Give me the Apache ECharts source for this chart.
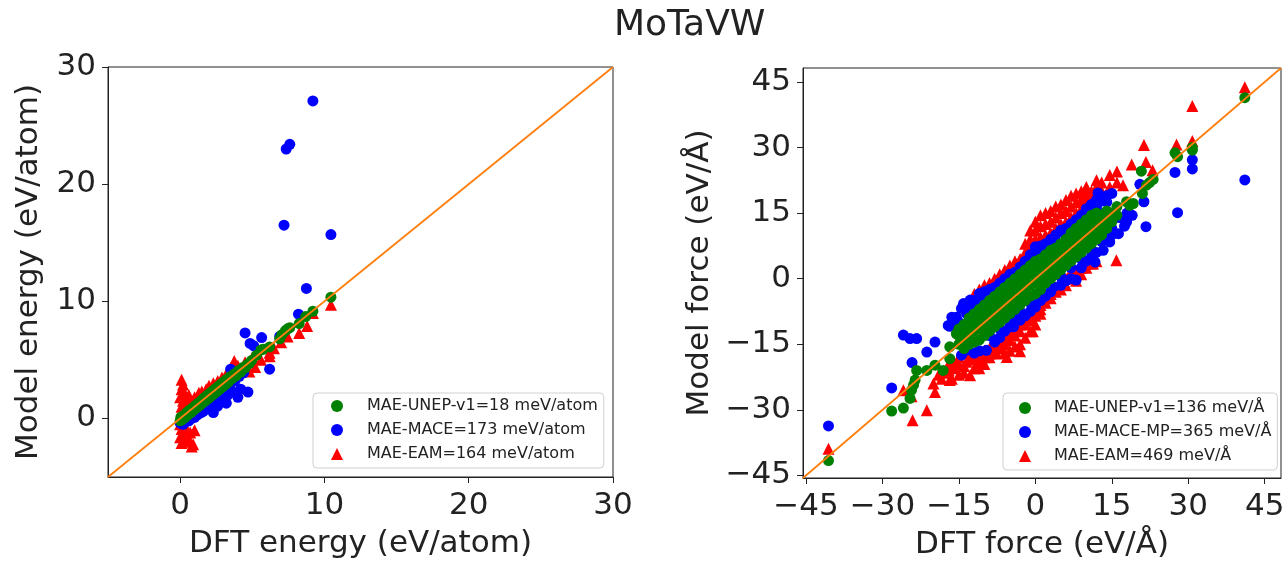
<!DOCTYPE html>
<html>
<head>
<meta charset="utf-8">
<script src="https://cdn.jsdelivr.net/npm/echarts@6/dist/echarts.min.js"></script>
<style>
  html, body { margin: 0; padding: 0; background: #fff; }
  #main { width: 1288px; height: 561px; }
</style>
</head>
<body>
<div id="main"></div>
<script>
var energyTicks = [0, 10, 20, 30];
var forceTicks = [-45, -30, -15, 0, 15, 30, 45];
var energyRange = [-5, 30];
var forceRange = [-45.6, 48.2];

var energyNames = ['MAE-UNEP-v1=18 meV/atom', 'MAE-MACE=173 meV/atom', 'MAE-EAM=164 meV/atom'];
var forceNames = ['MAE-UNEP-v1=136 meV/Å', 'MAE-MACE-MP=365 meV/Å', 'MAE-EAM=469 meV/Å'];

// energy panel (DFT, model) in eV/atom
var energyUnep = [
  [0,-0.2],[0.05,0.1],[0.15,-0.1],[0.25,0.25],[0.35,0.1],[0.45,0.5],[0.55,0.3],[0.65,0.7],[0.75,0.5],
  [0.85,0.9],[0.95,0.7],[1.05,1.1],[1.15,0.9],[1.25,1.3],[1.35,1.1],[1.45,1.5],[1.55,1.3],[1.65,1.75],
  [1.75,1.5],[1.85,1.95],[1.95,1.7],[2.05,2.15],[2.15,1.9],[2.25,2.35],[2.35,2.1],[2.45,2.55],[2.55,2.3],
  [2.65,2.75],[2.75,2.5],[2.85,2.95],[2.95,2.7],[3.05,3.15],[3.15,2.9],[3.25,3.35],[3.35,3.1],[3.45,3.55],
  [3.6,3.4],[3.75,3.8],[3.9,3.65],[4.05,4.1],[4.2,3.95],[4.35,4.35],[4.5,4.3],[4.65,4.6],[4.8,4.7],
  [4.95,4.95],[5.3,5.4],[5.6,5.85],[5.75,5.9],[6.2,6.1],[6.9,6.8],[7.05,7.15],[7.3,7.5],[7.45,7.65],
  [7.6,7.75],[8.25,8.1],[8.7,8.7],[9.2,9.15],[10.45,10.35]
];
var energyMace = [
  [9.2,27.1],[7.6,23.4],[7.35,23.0],[7.2,16.5],[10.45,15.7],[8.75,11.1],[8.2,8.9],[4.5,7.3],[5.65,6.9],
  [4.85,6.4],[5.1,6.2],[6.2,4.2],[4.7,2.25],[4.0,1.8],[6.9,7.0],
  [0,-0.4],[0.2,-0.5],[0.4,-0.3],[0.6,-0.2],[0.8,0],[1.0,0.1],[1.2,0.3],[1.4,0.5],[1.6,0.6],[1.8,0.8],
  [2.0,0.9],[2.2,1.1],[2.5,1.3],[2.8,1.5],[3.0,1.8],[3.3,2.0],[3.6,2.3],[3.2,1.3],[3.0,2.4],[3.5,3.0],
  [3.8,3.2],[4.1,3.6],[4.4,3.9],[3.5,4.2],[2.6,1.05],[1.45,0.49],[4.2,2.5],[2.3,0.5]
];
var energyEam = [
  [0.1,3.3],[0.2,2.9],[0.1,2.5],[0.3,2.2],[0.0,1.8],[0.2,1.5],[0.4,1.2],[0.1,1.0],[0.3,0.7],[0.5,1.6],
  [0.6,2.0],[0,-0.5],[0.1,-0.9],[0.2,-1.3],[0.0,-1.6],[0.3,-1.8],[0.1,-2.1],[0.5,-1.5],[0.6,-2.0],
  [0.8,-2.4],[0.9,-2.2],[0.7,-1.2],[0.4,-0.8],[1.0,-1.0],
  [0.8,1.5],[1.0,1.8],[1.3,2.2],[1.5,2.3],[1.8,2.5],[2.0,2.8],[2.3,3.0],[2.6,3.2],[2.9,3.5],[3.2,3.8],
  [3.75,4.9],[3.5,4.3],[4.0,4.5],[4.5,4.8],[5.0,5.2],[1.2,1.0],[2.2,2.0],
  [4.8,4.0],[5.6,5.0],[6.2,5.3],[7.0,6.5],[7.45,7.0],[8.25,7.3],[8.8,7.9],[9.2,9.0],[10.45,9.7],
  [6.5,6.0],[6.2,5.6],[5.2,4.4]
];

// force panel (DFT, model) in eV/Å
var forceUnep = [
  [-40.6,-41.6],[-28.2,-30.3],[-25.9,-29.6],[-24.6,-27.4],[-24.3,-25.5],[-23.9,-24.3],[-23.6,-23.2],
  [-23.3,-21.0],[-21.3,-21.0],[-19.7,-19.8],[-18.1,-21.0],[-16.8,-18.3],[-16.8,-15.6],[-15.5,-12.6],
  [-15,-15],[-15,-13],[-15,-11.5],[-14,-16],[-14,-14],[-14,-12],[-14,-10.5],
  [-13,-15],[-13,-13],[-13,-11],[-13,-9],[-12,-14.5],[-12,-12],[-12,-10],[-12,-8],
  [-11,-14],[-11,-11.5],[-11,-9],[-11,-7],[-10,-13],[-10,-10.5],[-10,-8],[-10,-6],
  [-9,-12],[-9,-9.5],[-9,-7],[-9,-5],[-8,-11],[-8,-8.5],[-8,-6],[-8,-4],
  [-7,-10],[-7,-7.5],[-7,-5],[-7,-3],[-6,-9],[-6,-6.5],[-6,-4],[-6,-2],
  [-5,-8],[-5,-5.5],[-5,-3],[-5,-1],[-4,-7],[-4,-4.5],[-4,-2],[-4,0],
  [-3,-6],[-3,-3.5],[-3,-1],[-3,1],[-2,-5],[-2,-2.5],[-2,0],[-2,2],
  [-1,-4],[-1,-1.5],[-1,1],[-1,3],[0,-3.5],[0,-1],[0,1.5],[0,4],
  [1,-2.5],[1,0],[1,2.5],[1,4.5],[2,-1],[2,1],[2,3.5],[2,5.5],
  [3,0],[3,2.5],[3,4.5],[3,6.5],[4,1],[4,3.5],[4,5.5],[4,7],
  [5,2],[5,4.5],[5,6.5],[5,8],[6,3],[6,5.5],[6,7.5],[6,9],
  [7,4],[7,6.5],[7,8.5],[7,10.5],[8,5],[8,7.5],[8,9.5],[8,11.5],
  [9,6],[9,8.5],[9,10.5],[9,12.5],[10,7],[10,9.5],[10,11.5],[10,13.5],
  [11,8],[11,10.5],[11,12.5],[11,14.5],[12,9],[12,11.5],[12,13.5],[12,15],
  [13,10],[13,12.5],[13,14.5],[14,11.5],[14,13.5],[14,15.5],[15,13],[15,15],[16,14.5],[16,16.5],
  [17.9,17.6],[18.5,16.8],[19.2,17.2],[21.0,19.5],[21.8,21.4],[22.4,22.0],[23.1,22.7],[20.8,24.6],
  [27.4,28.8],[27.9,27.9],[30.8,29.4],[30.8,30.0],[41.1,41.4]
];
var forceMace = [
  [-17.1,-10.7],[-16.4,-8.8],[-15.5,-8.8],[-14.5,-6.8],[-14.1,-5.7],[-13,-6],[-12.8,-4.9],[-12,-5],
  [-11,-3.4],[-10.9,-4.5],[-10,-3],[-9,-2.5],[-8,-2],[-7,-1],[-6,0],[-5,1],[-4,1.5],[-3,2.7],[-2,4],
  [-1,5.5],[0,7.3],[0.5,6],[1,7.5],[2,8],[3,9],[4,10],[5,11.1],[6,11.5],[7,12.5],[8,13.5],[9,14.5],
  [10,16],[11,17],[12.3,19.6],[12,18],[13,18],[14,19],[15,19.5],[-15,-10],[-13.5,-8],[-12,-7],
  [-10,-5.5],[-8,-4],[-6,-2],[-4,-0.5],[-2,1.5],[0,5.5],[2,6.5],[4,8.5],[6,10],[8,11.5],[10,14],
  [12,16],[14,17.5],
  [16.3,10.3],[17.9,13],[14.6,8.4],[13.3,6.5],[11.7,3.8],[15,10],[14,9],[12,6],[11,5],[10,4],[9,2.5],
  [8,-0.3],[7,0],[6,-0.5],[5,-1.5],[3.5,-1.9],[3,-3],[2,-4],[1,-5],[0,-6.5],[-1,-7.5],[-2,-8.5],
  [-3,-9.5],[-4.3,-11],[-5,-11],[-6,-12],[-7,-13.5],[-8,-14.5],[-9.6,-16.4],[-11,-16.5],[-12,-17],
  [-13.5,-16.4],[-14.5,-17.5],[-9,-13],[-7,-11.5],[-5,-9.5],[-3,-7.5],[-1,-5.5],[1,-3.5],[3,-1.5],
  [5,0.5],[7,2.5],[9,4.5],[11,6.5],[13,8.5],[15,11.5],[-3.5,-8],
  [-40.6,-33.7],[-28.2,-25],[-25.9,-12.9],[-24.6,-13.7],[-23.3,-13.7],[-19.7,-14.5],[-21.3,-16.8],
  [-24.2,-19.2],[-16.8,-10.9],[20.5,21.6],[21.3,17.6],[21.7,11.9],[27.4,24.3],[27.9,15.1],
  [30.8,27.2],[30.8,25.1],[41.1,22.6],[12.5,17.5],[18,15],[19,14.5],[17.5,12],[16.5,14]
];
var forceEam = [
  [-14,-6.5],[-13,-5],[-12,-3.5],[-11,-2.5],[-10,-1.5],[-9,-1],[-8,0],[-7,1],[-6,2],[-5,3],[-4,4],
  [-3,4.5],[-2,6],[-2,8],[-1,7],[-1,9],[-1,11],[0,9],[0,11],[0,13],[1,9.5],[1,12],[1,14.5],
  [2,10],[2,12.5],[2,15],[3,10.5],[3,13],[3,15.5],[4,11.5],[4,14],[4,16.5],[5,12.5],[5,15],[5,17],
  [6,13],[6,15.5],[6,18],[7,14],[7,16.5],[7,19],[8,15],[8,17.5],[8,19.5],[9,16],[9,18],[9,20],
  [10,17],[10,19],[10,21],[11,18],[11,20],[12,19],[12,21],[12,22.5],[13,20],[13,22],[14.6,21],
  [14.6,23.7],[16,22],[16,24.5],[17.2,21.4],[18.9,26.1],[21.3,30.6],[21.7,26.7],[23,24.8],
  [27.7,30.7],[30.8,39.5],[30.8,31.5],[41.1,43.8],
  [-12,-4.5],[-7,-0.5],[-6,0.5],[-5,1.5],[-4,2.5],[-3,3.5],[-1,5],[0,7],[1,8],[2,9],[3,9.5],
  [12,4],[11,3.5],[10,2.5],[9,1],[8,-0.5],[7,0.5],[6,-1.5],[5,-2.5],[4,-3],[3,-4.5],[2,-5.5],
  [1,-7],[1,-8],[0,-8.5],[0,-10.5],[-0.5,-12],[-1,-9.5],[-1,-12],[-2,-10.5],[-2,-13.5],[-3,-12],
  [-3,-15],[-3,-16.6],[-4,-13],[-4,-15.5],[-5,-14],[-5,-16.5],[-5.6,-17.9],[-6,-15],[-6,-17],
  [-7,-16],[-7.6,-17.1],[-8,-16.5],[-8.9,-17.1],[-9,-18],[-10,-18],[-10,-19.5],[-11,-19],
  [-11,-20.5],[-12,-18.5],[-12,-20.5],[-12.8,-22.1],[-13.5,-19],[-14,-20],[-14,-21.5],[-15,-19.5],
  [-15,-22],[-16.4,-22.9],[-16.8,-23.2],[-16,-20.5],[-17,-21],[-18.4,-22.9],[-18,-21.5],
  [-9,-16],[-8,-15],[-7,-14.5],[-6,-13.5],[-5,-12.5],[-4,-11.5],[-3,-10.5],[-2,-9.5],[-1,-8.5],
  [0,-7.5],[1,-6],[2,-4.5],[3,-3.5],[4,-2],[5,-1],[6,0],[7,1.5],[8,1.5],[9,2.5],[10,3.5],
  [-13,-18],[-12,-17],[-11,-17.5],[-10,-16.5],[-15,-18],[-16,-19],[-17,-19.5],[-19,-22],[-20,-24],
  [-19.7,-25.9],[-21.3,-30.1],[-24.1,-32.4],[-24.3,-26.9],[-25.9,-25.5],[-40.6,-38.9],
  [15.9,4.2],[11.3,3.5],[6.8,1.2]
];

var FONT = 'DejaVu Sans';
var INK = '#222';

function minusFmt(v) {
  return String(v).replace('-', '\u2212');
}

function makeAxis(grid, range, ticks, name, gap, margin) {
  return {
    type: 'value',
    gridIndex: grid,
    min: range[0],
    max: range[1],
    name: name,
    nameLocation: 'middle',
    nameGap: gap,
    nameTextStyle: {fontSize: 31, color: INK, fontFamily: FONT},
    axisLine: {show: true, onZero: false, lineStyle: {color: INK, width: 1}},
    axisTick: {show: true, customValues: ticks, length: 6, lineStyle: {color: INK}},
    axisLabel: {customValues: ticks, fontSize: 31, color: INK, fontFamily: FONT, margin: margin, formatter: minusFmt},
    splitLine: {show: false}
  };
}

function diag(grid, range) {
  return {
    type: 'line', xAxisIndex: grid, yAxisIndex: grid, silent: true,
    data: [[range[0], range[0]], [range[1], range[1]]],
    showSymbol: false, symbol: 'none',
    lineStyle: {color: '#ff7f0e', width: 1.8}
  };
}

function pts(grid, name, data, color, symbol, size) {
  return {
    type: 'scatter', name: name, xAxisIndex: grid, yAxisIndex: grid,
    data: data, symbol: symbol, symbolSize: size,
    itemStyle: {color: color, opacity: 1}
  };
}

function makeLegend(names, left, top, pad, textGap) {
  return {
    show: true, orient: 'vertical', left: left, top: top,
    data: names, selectedMode: false,
    itemWidth: 12, itemHeight: 12, itemGap: 4,
    padding: pad,
    backgroundColor: '#fff', borderColor: '#d0d0d0', borderWidth: 1, borderRadius: 4,
    textStyle: {fontSize: 16, color: INK, fontFamily: FONT, lineHeight: 20, padding: [0, 0, 0, textGap]}
  };
}

var chart = echarts.init(document.getElementById('main'));
chart.setOption({
  animation: false,
  backgroundColor: '#fff',
  title: {
    text: 'MoTaVW', left: 614, top: 8, padding: 0,
    textStyle: {fontSize: 36, fontWeight: 'normal', color: INK, fontFamily: FONT}
  },
  grid: [
    {left: 108, top: 67, width: 505, height: 410, outerBoundsMode: 'none', show: true, borderColor: INK, borderWidth: 1, backgroundColor: 'transparent'},
    {left: 803, top: 68, width: 478, height: 410, outerBoundsMode: 'none', show: true, borderColor: INK, borderWidth: 1, backgroundColor: 'transparent'}
  ],
  xAxis: [
    makeAxis(0, energyRange, energyTicks, 'DFT energy (eV/atom)', 51, 13),
    makeAxis(1, forceRange, forceTicks, 'DFT force (eV/Å)', 51, 13)
  ],
  yAxis: [
    makeAxis(0, energyRange, energyTicks, 'Model energy (eV/atom)', 64, 12),
    makeAxis(1, forceRange, forceTicks, 'Model force (eV/Å)', 88, 12)
  ],
  legend: [
    makeLegend(energyNames, 313, 393, [3, 6, 4, 18], 19),
    makeLegend(forceNames, 1003, 393, [5, 6, 4, 16], 18)
  ],
  series: [
    diag(0, energyRange),
    pts(0, energyNames[2], energyEam, '#ff0000', 'triangle', 12),
    pts(0, energyNames[1], energyMace, '#0000ff', 'circle', 11),
    pts(0, energyNames[0], energyUnep, '#008000', 'circle', 11),
    diag(1, forceRange),
    pts(1, forceNames[2], forceEam, '#ff0000', 'triangle', 12),
    pts(1, forceNames[1], forceMace, '#0000ff', 'circle', 11),
    pts(1, forceNames[0], forceUnep, '#008000', 'circle', 11)
  ]
});
</script>
</body>
</html>
